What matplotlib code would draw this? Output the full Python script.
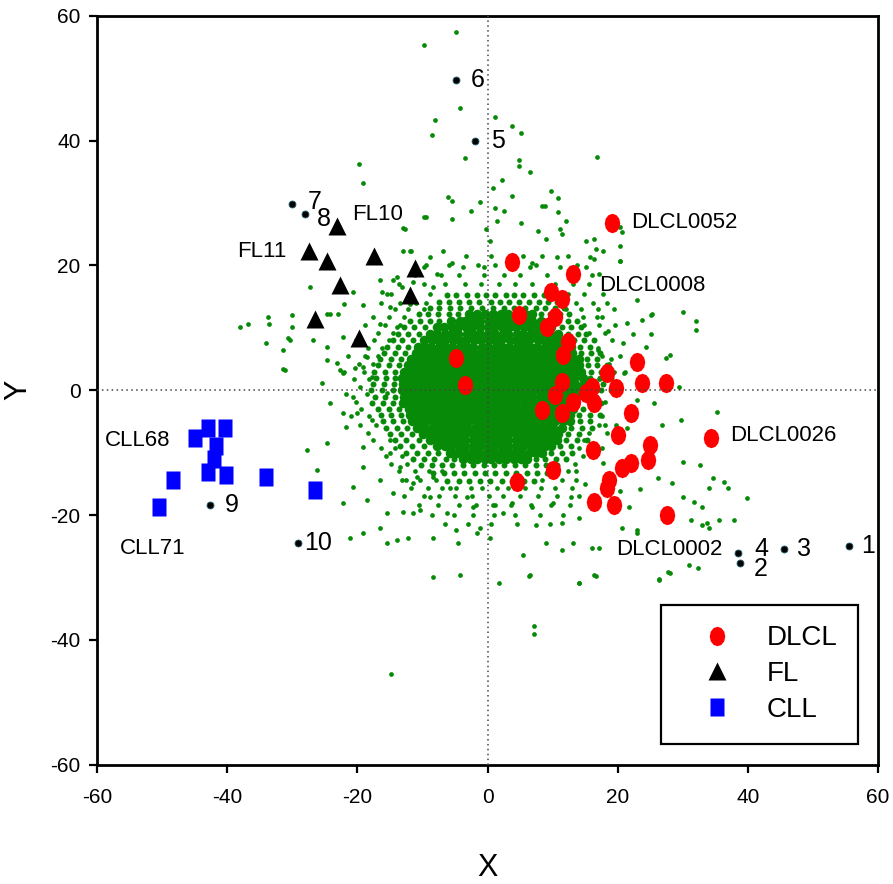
import numpy as np
import matplotlib.pyplot as plt

plt.rcParams['font.family'] = ['Liberation Sans', 'DejaVu Sans']
plt.rcParams['axes.unicode_minus'] = False

# ---- dense core of the gene cloud: (y, [x values]) ----
core_rows = [
    (12.2, [-2.8, -1.6, -0.4, 0.9, 2.1, 3.2, 4.6, 5.7, 6.8]),
    (11.1, [-5.6, -4.3, -3.4, -2.2, -1.1, 0.2, 1.3, 2.4, 3.6, 4.5, 5.8, 6.9, 8.2]),
    (10.2, [-7.8, -6.7, -5.5, -4.6, -3.3, -2.4, -1.2, 0.1, 1.0, 2.2, 3.3, 4.4, 5.6, 6.5, 7.8, 8.9, 9.8]),
    (9.1, [-8.8, -7.7, -6.6, -5.4, -4.5, -3.2, -2.3, -1.1, 0.0, 1.1, 2.3, 3.2, 4.5, 5.4, 6.6, 7.5, 8.7, 9.6, 10.8]),
    (8.0, [-9.8, -8.6, -7.5, -6.6, -5.3, -4.4, -3.3, -2.1, -1.0, 0.2, 1.2, 2.1, 3.4, 4.3, 5.5, 6.4, 7.7, 8.6, 9.8, 10.7, 11.9]),
    (7.0, [-10.7, -9.6, -8.7, -7.4, -6.5, -5.4, -4.2, -3.1, -2.2, -0.9, 0.1, 1.3, 2.2, 3.3, 4.6, 5.5, 6.5, 7.6, 8.8, 9.7, 10.9, 11.8, 12.8]),
    (6.0, [-11.0, -9.9, -8.8, -7.7, -6.6, -5.5, -4.4, -3.3, -2.2, -1.1, 0.0, 1.1, 2.2, 3.3, 4.4, 5.5, 6.6, 7.7, 8.8, 9.9, 11.0, 12.1, 13.0]),
    (5.0, [-11.8, -10.7, -9.6, -8.4, -7.5, -6.3, -5.2, -4.3, -3.0, -2.1, -0.9, 0.2, 1.4, 2.3, 3.5, 4.4, 5.6, 6.5, 7.7, 8.7, 9.8, 10.9, 11.9, 13.1, 14.0]),
    (4.0, [-12.2, -11.1, -9.9, -8.9, -7.8, -6.7, -5.6, -4.4, -3.4, -2.3, -1.2, -0.1, 1.0, 2.1, 3.2, 4.3, 5.4, 6.5, 7.6, 8.7, 9.8, 10.9, 12.0, 13.1, 14.1]),
    (3.0, [-12.8, -11.6, -10.6, -9.5, -8.3, -7.3, -6.1, -5.2, -4.0, -2.9, -1.9, -0.7, 0.3, 1.5, 2.6, 3.6, 4.8, 5.8, 6.9, 8.1, 9.1, 10.2, 11.4, 12.4, 13.6, 14.4]),
    (2.0, [-13.1, -12.0, -10.9, -9.8, -8.7, -7.6, -6.5, -5.4, -4.3, -3.2, -2.1, -1.0, 0.1, 1.2, 2.3, 3.4, 4.5, 5.6, 6.7, 7.8, 8.9, 10.0, 11.1, 12.2, 13.3, 14.6]),
    (1.0, [-13.0, -11.8, -10.8, -9.6, -8.6, -7.4, -6.4, -5.2, -4.2, -3.0, -2.0, -0.8, 0.2, 1.4, 2.4, 3.6, 4.6, 5.8, 6.8, 8.0, 9.0, 10.2, 11.2, 12.4, 13.4, 14.8]),
    (0.0, [-13.2, -12.1, -11.0, -9.9, -8.8, -7.7, -6.6, -5.5, -4.4, -3.3, -2.2, -1.1, 0.0, 1.1, 2.2, 3.3, 4.4, 5.5, 6.6, 7.7, 8.8, 9.9, 11.0, 12.1, 13.2, 14.4]),
    (-1.0, [-12.9, -11.7, -10.7, -9.5, -8.5, -7.3, -6.3, -5.1, -4.1, -2.9, -1.9, -0.7, 0.3, 1.5, 2.5, 3.7, 4.7, 5.9, 6.9, 8.1, 9.1, 10.3, 11.3, 12.5, 13.6]),
    (-2.0, [-13.0, -11.9, -10.8, -9.7, -8.6, -7.5, -6.4, -5.3, -4.2, -3.1, -2.0, -0.9, 0.2, 1.3, 2.4, 3.5, 4.6, 5.7, 6.8, 7.9, 9.0, 10.1, 11.2, 12.3, 13.5]),
    (-3.0, [-12.1, -11.0, -9.8, -8.8, -7.6, -6.6, -5.4, -4.4, -3.2, -2.2, -1.0, 0.0, 1.2, 2.2, 3.4, 4.4, 5.6, 6.6, 7.8, 8.8, 10.0, 11.0, 12.2, 13.2]),
    (-4.0, [-11.9, -10.8, -9.7, -8.6, -7.5, -6.4, -5.3, -4.2, -3.1, -2.0, -0.9, 0.2, 1.3, 2.4, 3.5, 4.6, 5.7, 6.8, 7.9, 9.0, 10.1, 11.2, 12.6]),
    (-5.0, [-11.6, -10.4, -9.4, -8.2, -7.2, -6.0, -5.0, -3.8, -2.8, -1.6, -0.6, 0.6, 1.6, 2.8, 3.8, 5.0, 6.0, 7.2, 8.2, 9.4, 10.4, 11.6, 12.7]),
    (-6.0, [-10.8, -9.7, -8.6, -7.5, -6.4, -5.3, -4.2, -3.1, -2.0, -0.9, 0.2, 1.3, 2.4, 3.5, 4.6, 5.7, 6.8, 7.9, 9.0, 10.1, 11.4]),
    (-7.0, [-10.0, -8.8, -7.8, -6.6, -5.6, -4.4, -3.4, -2.2, -1.2, 0.0, 1.0, 2.2, 3.2, 4.4, 5.4, 6.6, 7.6, 8.8, 9.8, 10.9]),
    (-8.0, [-8.9, -7.8, -6.7, -5.6, -4.5, -3.4, -2.3, -1.2, -0.1, 1.0, 2.1, 3.2, 4.3, 5.4, 6.5, 7.6, 8.7, 9.8, 10.7]),
    (-9.0, [-7.8, -6.6, -5.6, -4.4, -3.4, -2.2, -1.2, 0.0, 1.0, 2.2, 3.2, 4.4, 5.4, 6.6, 7.6, 8.8, 9.7]),
    (-10.0, [-5.8, -4.7, -3.6, -2.5, -1.4, -0.3, 0.8, 1.9, 3.0, 4.1, 5.2, 6.3, 7.4, 8.3]),
    (-11.0, [-3.8, -2.6, -1.6, -0.4, 0.6, 1.8, 2.8, 4.0, 5.1, 6.0]),
]

# ---- fairly dense band just outside the core ----
ring_rows = [
    (15.2, [-6.2, -4.8, -3.1, -1.7, -0.2, 1.1, 2.8, 4.0, 5.5, 7.1, 8.6]),
    (14.1, [-7.5, -5.9, -4.4, -2.9, -1.3, 0.6, 1.9, 3.3, 4.9, 6.4, 7.9, 9.3, 10.6]),
    (13.2, [-8.9, -7.4, -5.8, -4.2, -2.6, -0.9, 0.8, 2.5, 4.1, 5.7, 7.4, 8.8, 10.3, 11.7]),
    (12.2, [-10.6, -9.1, -7.6, -6.0, -4.6, 8.2, 9.6, 11.1, 12.5]),
    (11.1, [-12.0, -10.4, -8.9, -7.4, 9.5, 10.9, 12.4, 13.8]),
    (10.1, [-12.9, -11.3, -9.6, 11.4, 12.8, 14.3]),
    (9.0, [-13.8, -12.2, -10.6, 12.3, 13.9, 15.2]),
    (8.0, [-14.6, -13.1, -11.5, 13.3, 14.8, 16.3]),
    (7.0, [-15.4, -13.8, -12.3, 14.2, 15.7]),
    (6.0, [-15.9, -14.3, -12.7, 14.4, 15.9, 17.3]),
    (5.0, [-16.5, -14.9, -13.3, 15.3, 16.8]),
    (4.0, [-16.8, -15.2, -13.6, 15.4, 16.9, 18.3]),
    (3.0, [-17.4, -15.8, -14.3, 15.9, 17.5]),
    (2.0, [-17.2, -15.6, -14.2, 15.8, 17.3, 18.9]),
    (1.0, [-17.6, -16.0, -14.4, 16.1, 17.7]),
    (0.0, [-17.9, -16.3, -14.6, 15.8, 17.4, 19.0]),
    (-1.0, [-17.3, -15.7, -14.2, 15.1, 16.7]),
    (-2.0, [-17.8, -16.1, -14.5, 15.9, 17.5]),
    (-3.0, [-16.9, -15.2, -13.6, 14.6, 16.2]),
    (-4.0, [-16.4, -14.8, -13.3, 14.1, 15.7, 17.3]),
    (-5.0, [-16.1, -14.5, -13.0, 14.2, 15.8]),
    (-6.0, [-15.6, -13.9, -12.4, 12.9, 14.5, 16.1]),
    (-7.0, [-15.0, -13.3, -11.6, 12.4, 14.0]),
    (-8.0, [-14.2, -12.5, -10.6, 12.1, 13.7, 15.3]),
    (-9.0, [-13.4, -11.6, -9.8, 11.2, 12.8]),
    (-10.0, [-12.6, -10.9, -9.2, -7.6, 9.8, 11.4, 13.0]),
    (-11.0, [-11.5, -9.8, -8.2, -6.4, -5.2, 7.4, 8.9, 10.5, 12.1]),
    (-12.0, [-10.2, -8.6, -7.0, -5.4, -3.8, -2.2, -0.6, 1.0, 2.6, 4.2, 5.8, 7.4, 9.0, 10.6]),
    (-13.2, [-8.4, -6.7, -5.1, -3.6, -2.0, -0.4, 1.2, 2.8, 4.4, 6.0, 7.6, 9.2]),
    (-14.5, [-6.2, -4.4, -2.8, -1.2, 0.4, 2.2, 3.8, 5.6, 7.2]),
]

# ---- medium-density ring further out ----
halo_rows = [
    (21.5, [-3.3, 0.6, 5.4, 12.4]),
    (20.0, [-9.4, -6.0, -1.4, 1.2, 7.4, 13.8]),
    (18.5, [-11.2, -7.2, -4.4, -0.6, 2.6, 5.0, 9.2, 12.8, 16.0]),
    (17.0, [-13.6, -9.8, -6.6, -3.4, -1.0, 1.8, 4.2, 6.8, 10.4, 13.2, 15.6]),
    (15.5, [-14.8, -12.0, -8.8, 10.6, 12.4, 14.8, 17.8]),
    (14.0, [-16.4, -13.4, -11.0, -9.4, 11.4, 13.6, 16.2, 18.4]),
    (13.0, [-14.2, -12.2, -9.8, 12.0, 14.4, 17.0]),
    (11.8, [-17.6, -15.2, -12.8, 14.6, 16.8]),
    (10.5, [-18.8, -15.8, -13.4, 14.8, 17.2, 19.6]),
    (9.2, [-16.8, -14.6, 15.6, 18.0]),
    (8.0, [-20.2, -17.4, -15.2, 16.4, 19.2]),
    (6.8, [-18.4, -16.2, 17.0]),
    (5.5, [-21.4, -18.8, -16.8, 17.6, 20.4]),
    (4.2, [-19.8, -17.6, 18.6]),
    (3.0, [-22.0, -19.0, 19.4, 21.2]),
    (1.8, [-20.6, -18.2, 17.2]),
    (0.6, [-19.6, 20.4]),
    (-0.6, [-21.8, -18.6, 19.4]),
    (-1.8, [-20.2, 18.0]),
    (-3.0, [-19.4, -16.8]),
    (-4.2, [-21.0, -18.2, 17.6]),
    (-5.5, [-19.6, -17.2, 17.2, 19.8]),
    (-6.8, [-18.4, 15.6, 18.4]),
    (-8.0, [-17.6, -15.0, 14.8]),
    (-9.2, [-16.4, -14.2, 14.0, 17.6]),
    (-10.5, [-15.6, -13.2, 14.6]),
    (-11.8, [-14.8, -12.4, 13.4]),
    (-13.0, [-13.6, -11.2, -9.0, -7.0, 9.8, 12.4]),
    (-14.3, [-12.6, -10.4, -8.0, 8.4, 11.4, 13.6]),
    (-15.6, [-11.8, -9.2, -7.0, -4.8, -2.6, -0.8, 1.4, 3.2, 5.8, 8.2, 10.4, 13.0]),
    (-17.0, [-12.8, -9.8, -7.4, -5.0, -2.4, 0.2, 2.4, 5.0, 7.8, 10.6, 14.0]),
    (-18.4, [-10.6, -7.6, -4.4, -1.8, 0.8, 3.6, 6.6, 9.8, 12.6]),
    (-20.0, [-8.6, -5.2, -2.2, 1.0, 4.2, 8.0, 11.6]),
    (-21.5, [-6.6, -3.0, 0.6, 4.6, 9.6]),
]

# ---- sparse outlying genes ----
outer_x = [-4.8, -9.7, -4.3, -8.1, -8.6, -3.5, -19.7, -19.2, -6.1, -5.5, -9.4, -5.4, -2.5, -1.2, -12.7,
           1.1, 3.8, 5.2, 16.9, 4.8, 4.9, 6.5, 2.2, 0.8, 9.8, 3.8, 10.8, 8.3, 8.8, 2.6, 1.1, 10.8, 5.2, 7.7,
           11.1, 12.1, 1.5, -0.2, 9.0, 11.5, 15.2, 16.4, 20.6, 16.7, 17.7, 20.3, 15.7, 16.4, 6.9, 8.4, 10.6,
           6.5, 0.3, 15.2, 17.2, 11.1,
           -12.0, -8.9, -6.9, -5.4, -9.7, -7.8, -3.8, -0.5, -8.4, -14.6, -16.6, -27.3, -20.7, -16.3, -11.5, -13.0,
           -36.9, -33.8, -33.6, -30.0, -30.1, -34.0, -30.7, -31.5, -31.2, -24.7, -23.0, -24.3, -22.0, -19.2,
           -22.3, -24.7, -22.7, -18.6, -20.4, -16.6, -15.5, -14.0, -11.7, -9.7, -13.0, -13.2, -12.0, -15.0, -14.0,
           -30.4, -31.5, -26.9, -25.5, -24.3, -23.2, -22.3, -22.3, -24.7, -27.8, -26.3, -21.7, -20.7, -20.1,
           -19.2, -19.2, -20.7, -22.3, -21.2, -19.2, -16.6, -18.6, -15.5, -14.0, -12.3, -8.4, -4.3, -16.6,
           -14.6, -11.5, -8.9, -6.3, -4.8, -1.7, -2.3, -11.5, -8.4, -15.0, -17.7, -17.7, -19.2, -15.5, -13.5, -24.7,
           -15.5, -8.4, -4.6, 0.3, 5.4, 9.0, 11.4, 13.1, 16.1, 7.5, 11.4, 14.1, 2.3, -1.2, -10.4, -13.0,
           -13.2, -10.9, -5.8, -3.2, 1.1, 3.8, 6.9, 10.0, 12.9,
           1.7, 6.3, 14.0, 16.6, 26.3, 27.8, 7.1, 7.1, -14.9,
           30.1, 32.1, 32.1, 25.2, 28.1, 27.5, 29.5, 35.3, 29.8, 30.0, 32.6, 34.6, 36.4, 36.9, 34.1, 39.9,
           30.0, 31.8, 28.3, 35.6, 37.9, 34.1, 32.9, 31.3, 32.3, 28.0, 26.4, 31.0, 22.9, 20.7, 17.2, 16.4,
           14.1, 6.5, 25.3, 33.0, 33.8, 21.8, 22.9, 22.9, 25.2, 23.8, 22.3, 20.3, 20.3, 20.3,
           18.5, 20.8, 17.6, 19.4, 21.5, 17.0, 19.0, 21.0, 23.0, 18.0, 21.5, 17.8, 13.6, 15.0, 20.4, 23.4,
           26.2, 26.8, 25.6, 24.4, -38.0]
outer_y = [57.4, 55.3, 45.2, 43.3, 40.9, 37.2, 36.3, 33.2, 30.9, 30.4, 27.8, 27.5, 28.8, 30.2, 25.9,
           43.8, 42.3, 41.2, 37.4, 36.9, 36.0, 35.0, 33.7, 32.5, 32.0, 31.2, 30.8, 29.6, 29.6, 28.8, 29.2, 28.5,
           26.8, 25.6, 25.9, 27.2, 27.2, 25.9, 24.3, 25.1, 24.0, 24.3, 25.3, 22.7, 22.4, 20.8, 21.3, 21.1,
           20.4, 21.6, 21.3, 19.7, 24.0, 19.7, 18.7, 19.7,
           22.4, 21.3, 22.4, 20.4, 19.7, 18.7, 19.7, 19.7, 16.5, 17.6, 17.6, 16.5, 15.7, 15.7, 17.3, 22.4,
           10.7, 11.7, 10.7, 12.0, 10.1, 7.5, 8.3, 6.4, 3.2, 6.9, 12.3, 12.3, 13.9, 13.6,
           8.5, 4.8, 3.2, 5.3, 3.5, 10.7, 15.5, 18.1, 22.4, 27.7, 26.0, 16.5, 13.9, 13.3, 10.1,
           8.0, 3.4, 8.0, 1.1, -2.1, 4.3, 2.7, -3.7, -8.5, -9.6, -12.8, -5.9, -1.1, -3.7,
           -9.1, -12.3, -15.5, -18.1, -23.6, -22.9, -22.0, -17.6, -19.7, -24.0, -23.6, -30.0, -29.6, -14.4,
           -16.5, -19.7, -17.1, -19.7, -22.4, -22.9, -18.7, -14.9, -13.9, -10.1, -4.8, 2.1, 3.7, -0.5, -12.3, 12.3,
           -24.5, -23.6, -24.4, -23.6, -26.4, -24.5, -25.6, -24.4, -25.2, -21.6, -21.3, -20.5, -19.7, -22.0, -19.2, -19.5,
           -14.4, -13.9, -15.7, -17.1, -18.4, -18.1, -18.7, -18.1, -17.1,
           -30.9, -29.8, -30.9, -29.8, -30.3, -29.2, -37.7, -39.0, -45.4,
           12.5, 11.1, 9.6, 9.1, 5.6, 5.1, 0.5, -3.5, -4.8, -11.5, -12.0, -14.1, -14.7, -15.7, -15.7, -17.3,
           -17.1, -17.9, -14.9, -20.8, -20.8, -22.0, -21.6, -20.8, -28.5, -29.3, -30.4, -28.0, -22.4, -22.1, -25.2, -29.6,
           -30.9, -29.6, 12.3, -18.7, -21.2, -18.7, -22.8, 14.4, 12.0, 11.2, 9.1, 26.1, 23.2, 20.8,
           9.5, 7.6, 11.8, 13.0, 10.8, 6.5, 5.0, 2.8, -1.5, -5.5, -6.0, -11.6, -13.0, -15.0, -16.2, -15.8,
           -14.0, -5.6, -2.0, 7.0, 10.2]

# ---- labelled samples ----
dlcl_x = [19.2, 3.8, 13.1, 9.8, 11.5, 4.9, 10.3, 9.2, 12.3, 11.6, -4.8, -3.5, 22.9, 18.3, 23.8, 27.5,
          19.8, 16.0, 11.4, 15.2, 10.3, 13.1, 16.4, 8.3, 11.4, 22.1, 20.0, 34.4, 16.2, 24.9, 24.6, 22.1,
          20.7, 10.0, 4.5, 18.7, 18.3, 16.4, 19.5, 27.6]
dlcl_y = [26.8, 20.5, 18.6, 15.8, 14.6, 12.0, 11.7, 10.1, 7.7, 5.7, 5.1, 0.8, 4.5, 2.7, 1.1, 1.1,
          0.3, 0.5, 1.3, -0.5, -0.8, -1.9, -2.1, -3.2, -3.7, -3.7, -7.2, -7.7, -9.5, -8.8, -11.2, -11.7,
          -12.5, -12.8, -14.7, -14.4, -15.7, -17.9, -18.4, -20.0]

fl_x = [-23.2, -27.5, -24.7, -17.4, -22.7, -26.6, -19.8, -11.2, -12.0]
fl_y = [26.4, 22.4, 20.8, 21.6, 16.8, 11.5, 8.3, 19.6, 15.2]

cll_x = [-45.0, -43.0, -40.4, -41.8, -42.0, -43.0, -40.2, -48.4, -50.5, -34.0, -26.6]
cll_y = [-7.7, -6.1, -6.1, -9.0, -11.0, -13.1, -13.6, -14.4, -18.7, -13.9, -16.0]

num_labels = ['1', '2', '3', '4', '5', '6', '7', '8', '9', '10']
num_x = [55.5, 38.8, 45.6, 38.5, -2.0, -4.9, -30.0, -28.1, -42.7, -29.2]
num_y = [-25.0, -27.7, -25.5, -26.0, 40.0, 49.8, 29.8, 28.2, -18.4, -24.4]
num_text_x = [57.4, 41.0, 47.6, 41.0, 0.5, -2.6, -27.6, -26.3, -40.4, -28.2]
num_text_y = [-25.0, -28.6, -25.5, -25.4, 40.0, 49.8, 30.2, 27.4, -18.4, -24.4]

sample_labels = ['DLCL0052', 'DLCL0008', 'DLCL0026', 'DLCL0002', 'FL10', 'FL11', 'CLL68', 'CLL71']
sample_x = [22.1, 17.2, 37.3, 19.7, -20.9, -30.9, -58.8, -56.5]
sample_y = [26.9, 16.8, -7.2, -25.5, 28.2, 22.3, -8.0, -25.3]
sample_ha = ['left', 'left', 'left', 'left', 'left', 'right', 'left', 'left']


def expand(rows):
    xs = [x for y, row in rows for x in row]
    ys = [y for y, row in rows for x in row]
    return xs, ys


core_x, core_y = expand(core_rows)
ring_x, ring_y = expand(ring_rows)
halo_x, halo_y = expand(halo_rows)

t = np.linspace(0, 2 * np.pi, 13)[:-1]
ellipse_marker = list(zip(0.8 * np.cos(t), np.sin(t)))
rect_marker = [(-0.82, -1), (0.82, -1), (0.82, 1), (-0.82, 1)]

fig = plt.figure(figsize=(8.93, 8.84), dpi=100)
ax = fig.add_axes([0.109, 0.135, 0.874, 0.847])

green = '#078a07'
ax.plot(core_x, core_y, 'o', color=green, ms=6.9, mec='none', zorder=2)
ax.plot(ring_x, ring_y, 'o', color=green, ms=4.3, mec='none', zorder=2)
ax.plot(halo_x, halo_y, 'o', color=green, ms=3.4, mec='none', zorder=2)
ax.plot(outer_x, outer_y, 'o', color=green, ms=3.4, mec='none', zorder=2)

ax.plot(dlcl_x, dlcl_y, ls='none', marker=ellipse_marker, color='#ff0000', ms=14, mec='none',
        zorder=4, label='DLCL')
ax.plot(fl_x, fl_y, ls='none', marker='^', color='black', ms=13, mec='none', zorder=4, label='FL')
ax.plot(cll_x, cll_y, ls='none', marker=rect_marker, color='#0000ff', ms=13, mec='none',
        zorder=4, label='CLL')

ax.plot(num_x, num_y, 'o', color='black', ms=5, mec='#1f5f6f', mew=0.6, zorder=5)
for lab, tx, ty in zip(num_labels, num_text_x, num_text_y):
    ax.text(tx, ty, lab, fontsize=18, ha='left', va='center', zorder=6)
for lab, tx, ty, ha in zip(sample_labels, sample_x, sample_y, sample_ha):
    ax.text(tx, ty, lab, fontsize=16, ha=ha, va='center', zorder=6)

ax.axhline(0, color='#444444', lw=1.1, ls=(0, (1, 2.2)), zorder=7)
ax.axvline(0, color='#444444', lw=1.1, ls=(0, (1, 2.2)), zorder=7)

ax.set_xlim(-60, 60)
ax.set_ylim(-60, 60)
ax.set_xticks(np.arange(-60, 61, 20))
ax.set_yticks(np.arange(-60, 61, 20))
ax.tick_params(direction='out', length=6, width=1.6, labelsize=15)
ax.tick_params(axis='x', pad=11)
ax.tick_params(axis='y', pad=6)
for s in ax.spines.values():
    s.set_linewidth(2)
ax.set_xlabel('X', fontsize=22, labelpad=33)
ax.set_ylabel('Y', fontsize=22, labelpad=12)

leg = ax.legend(loc='lower right', bbox_to_anchor=(0.975, 0.028), fontsize=20, frameon=True,
                fancybox=False, framealpha=1, edgecolor='black', borderpad=0.75, labelspacing=0.35,
                handletextpad=0.55, handlelength=2.5, borderaxespad=0)
leg.get_frame().set_linewidth(1.6)
leg.set_zorder(10)

fig.savefig('out.png', dpi=100)
